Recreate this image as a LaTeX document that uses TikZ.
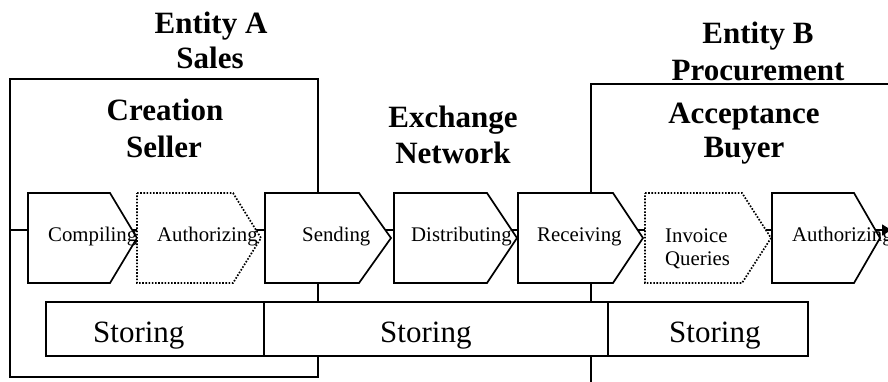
\documentclass[tikz,border=0pt]{standalone}
\usepackage{fontspec}
\setmainfont{Liberation Serif}
\usetikzlibrary{arrows.meta}

\tikzset{
  frame/.style={draw, line width=1.7pt, inner sep=0pt, outer sep=0pt, anchor=north west},
  stage/.style={draw, line width=1.7pt, fill=white, line join=miter},
  optstage/.style={draw, fill=white, line width=1.7pt, dash pattern=on 1.6pt off 1.6pt},
  store/.style={draw, fill=white, line width=1.6pt, inner sep=0pt, outer sep=0pt,
    anchor=north west, minimum height=54pt},
  head/.style={font=\fontsize{31}{37}\selectfont\bfseries, inner sep=0pt, anchor=base},
  steplabel/.style={font=\fontsize{20.8}{23}\selectfont, inner sep=0pt, anchor=base west},
  storelabel/.style={font=\fontsize{31}{37}\selectfont, inner sep=0pt, anchor=base west},
  flow/.style={line width=1.7pt, -{Latex[length=11pt,width=12pt]}},
}

% chevron: name, style, left x, shoulder x, tip x
\newcommand{\chevron}[5]{%
  \draw[#2] (#3,193) -- (#4,193) -- (#5,238) -- (#4,283) -- (#3,283) -- cycle;
  \coordinate (#1) at (#3,238);%
}

\begin{document}
\begin{tikzpicture}[x=1pt,y=-1pt]
  \useasboundingbox (0,0) rectangle (888,381);
  \clip (0,0) rectangle (888,381);

  % organisational frames
  \node[frame, minimum width=308pt, minimum height=298pt] (entA) at (10,79) {};
  \node[frame, minimum width=330pt, minimum height=330pt] (entB) at (591,84) {};

  % headings
  \node[head] (entAname)  at (211,33)  {Entity A};
  \node[head] (entAdept)  at (210,68)  {Sales};
  \node[head] (creation)  at (165,120) {Creation};
  \node[head] (seller)    at (164,157) {Seller};
  \node[head] (exchange)  at (453,127) {Exchange};
  \node[head] (network)   at (453,163) {Network};
  \node[head] (entBname)  at (758,43)  {Entity B};
  \node[head] (entBdept)  at (758,80)  {Procurement};
  \node[head] (acceptance) at (744,123) {Acceptance};
  \node[head] (buyer)     at (744,157) {Buyer};

  % process flow line
  \coordinate (flowstart) at (10,230);
  \coordinate (flowend)   at (893,230);
  \draw[flow] (flowstart) -- (flowend);

  % process steps
  \chevron{compile}{stage}{28}{110}{137}
  \chevron{authA}{optstage}{137}{233}{261}
  \chevron{send}{stage}{265}{359}{391}
  \chevron{distribute}{stage}{394}{487}{517}
  \chevron{receive}{stage}{518}{613}{643}
  \chevron{queries}{optstage}{645}{742}{771}
  \chevron{authB}{stage}{772}{854}{880}

  \node[steplabel] (compileT)    at (48,241)  {Compiling};
  \node[steplabel] (authAT)      at (157,241) {Authorizing};
  \node[steplabel] (sendT)       at (302,241) {Sending};
  \node[steplabel] (distributeT) at (411,241) {Distributing};
  \node[steplabel] (receiveT)    at (537,241) {Receiving};
  \node[steplabel] (queriesT1)   at (665,242) {Invoice};
  \node[steplabel] (queriesT2)   at (665,265) {Queries};
  \node[steplabel] (authBT)      at (792,241) {Authorizing};

  % storage bars
  \node[store, minimum width=218pt] (storeA) at (46,302)  {};
  \node[store, minimum width=344pt] (storeN) at (264,302) {};
  \node[store, minimum width=200pt] (storeB) at (608,302) {};
  \node[storelabel] (storeAT) at (93,342)  {Storing};
  \node[storelabel] (storeNT) at (380,342) {Storing};
  \node[storelabel] (storeBT) at (669,342) {Storing};
\end{tikzpicture}
\end{document}
